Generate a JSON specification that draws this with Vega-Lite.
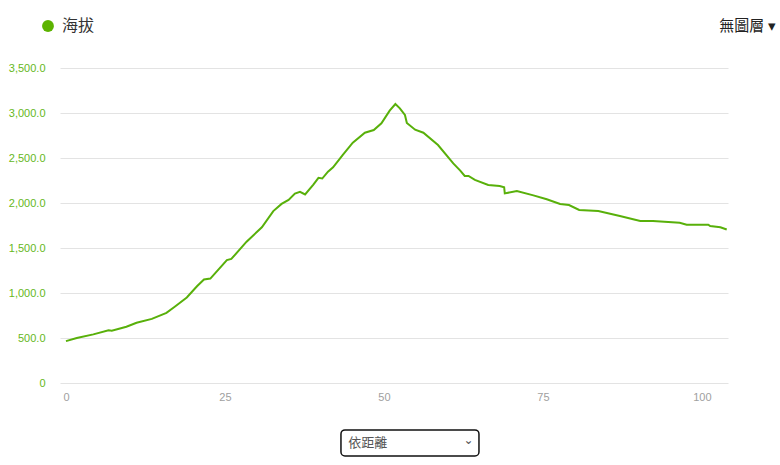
{
  "$schema": "https://vega.github.io/schema/vega-lite/v6.json",
  "width": 668,
  "height": 315,
  "autosize": {"type": "none"},
  "padding": {"left": 60, "top": 68, "right": 52, "bottom": 82},
  "background": "white",
  "title": {
    "text": "無圖層 ▾",
    "anchor": "end",
    "dx": 45,
    "offset": -16,
    "font": "Noto Sans CJK TC",
    "fontSize": 15,
    "fontWeight": "normal",
    "color": "#222222"
  },
  "config": {"view": {"stroke": null}},
  "layer": [
    {
      "data": {
        "values": [
          {"d": 0, "h": 465}, {"d": 1.7, "h": 500}, {"d": 4.3, "h": 540}, {"d": 6.7, "h": 585},
          {"d": 7.2, "h": 580}, {"d": 9.5, "h": 625}, {"d": 11.1, "h": 670}, {"d": 13.5, "h": 712},
          {"d": 15.8, "h": 780}, {"d": 17.1, "h": 848}, {"d": 19.0, "h": 950}, {"d": 20.6, "h": 1075},
          {"d": 21.7, "h": 1150}, {"d": 22.7, "h": 1160}, {"d": 25.3, "h": 1365}, {"d": 26.0, "h": 1378},
          {"d": 28.4, "h": 1570}, {"d": 30.8, "h": 1730}, {"d": 32.6, "h": 1910}, {"d": 33.9, "h": 1990},
          {"d": 35.0, "h": 2035}, {"d": 36.0, "h": 2105}, {"d": 36.8, "h": 2125}, {"d": 37.6, "h": 2095},
          {"d": 38.9, "h": 2205}, {"d": 39.7, "h": 2280}, {"d": 40.3, "h": 2272}, {"d": 41.2, "h": 2348},
          {"d": 42.0, "h": 2396}, {"d": 43.5, "h": 2533}, {"d": 45.1, "h": 2670}, {"d": 47.0, "h": 2781},
          {"d": 48.4, "h": 2811}, {"d": 49.6, "h": 2885}, {"d": 50.9, "h": 3026}, {"d": 51.8, "h": 3100},
          {"d": 52.5, "h": 3052}, {"d": 53.3, "h": 2978}, {"d": 53.6, "h": 2890}, {"d": 54.9, "h": 2815},
          {"d": 56.2, "h": 2781}, {"d": 58.5, "h": 2644}, {"d": 60.9, "h": 2440}, {"d": 62.0, "h": 2360},
          {"d": 62.7, "h": 2300}, {"d": 63.3, "h": 2300}, {"d": 64.3, "h": 2256}, {"d": 66.4, "h": 2200},
          {"d": 68.2, "h": 2189}, {"d": 68.9, "h": 2175}, {"d": 69.0, "h": 2107}, {"d": 70.9, "h": 2133},
          {"d": 73.5, "h": 2085}, {"d": 75.6, "h": 2041}, {"d": 77.7, "h": 1989}, {"d": 79.1, "h": 1978},
          {"d": 80.7, "h": 1922}, {"d": 83.7, "h": 1911}, {"d": 87.1, "h": 1856}, {"d": 90.3, "h": 1800},
          {"d": 92.3, "h": 1800}, {"d": 96.5, "h": 1781}, {"d": 97.6, "h": 1759}, {"d": 101.0, "h": 1759},
          {"d": 101.3, "h": 1744}, {"d": 102.9, "h": 1730}, {"d": 103.9, "h": 1705}
        ]
      },
      "mark": {"type": "line", "strokeWidth": 2, "interpolate": "linear"},
      "encoding": {
        "x": {
          "field": "d", "type": "quantitative",
          "scale": {"domain": [-0.94, 104.1], "nice": false, "zero": false},
          "axis": {
            "values": [0, 25, 50, 75, 100], "title": null, "grid": false, "domain": false, "ticks": false,
            "labelColor": "#a0a0a0", "labelFont": "Liberation Sans", "labelFontSize": 11, "labelPadding": 8
          }
        },
        "y": {
          "field": "h", "type": "quantitative",
          "scale": {"domain": [0, 3500], "nice": false},
          "axis": {
            "values": [0, 500, 1000, 1500, 2000, 2500, 3000, 3500], "title": null,
            "labelExpr": "datum.value == 0 ? '0' : format(datum.value, ',.1f')",
            "grid": true, "gridColor": "#e3e3e3", "gridWidth": 1, "domain": false, "ticks": false,
            "labelColor": "#66b81c", "labelFont": "Liberation Sans", "labelFontSize": 11, "labelPadding": 15
          }
        },
        "color": {
          "datum": "海拔",
          "scale": {"range": ["#58b00a"]},
          "legend": {
            "orient": "none", "legendX": -20, "legendY": -50, "title": null,
            "symbolType": "circle", "symbolSize": 140, "symbolStrokeWidth": 0,
            "labelFont": "Noto Sans CJK TC", "labelFontSize": 16, "labelColor": "#333333", "labelOffset": 6,
            "padding": 0,
            "symbolFillColor": "#5cb300",
            "encode": {"symbols": {"update": {"fill": {"value": "#5cb300"}, "stroke": {"value": "#5cb300"}, "strokeWidth": {"value": 0}}}}
          }
        }
      }
    },
    {
      "data": {"values": [{}]},
      "mark": {"type": "rect", "cornerRadius": 4, "fill": "white", "stroke": "#111111", "strokeWidth": 1.5, "clip": false},
      "encoding": {
        "x": {"datum": 43.24},
        "x2": {"datum": 64.94},
        "y": {"datum": -522},
        "y2": {"datum": -811}
      }
    },
    {
      "data": {"values": [{}]},
      "mark": {"type": "text", "text": "依距離", "align": "left", "baseline": "middle", "font": "Noto Sans CJK TC", "fontSize": 13, "color": "#555555", "clip": false},
      "encoding": {
        "x": {"datum": 44.4},
        "y": {"datum": -667}
      }
    },
    {
      "data": {"values": [{}]},
      "mark": {"type": "text", "text": "⌄", "align": "center", "baseline": "middle", "font": "DejaVu Sans", "fontSize": 12, "color": "#555555", "clip": false},
      "encoding": {
        "x": {"datum": 63.3},
        "y": {"datum": -630}
      }
    }
  ]
}
